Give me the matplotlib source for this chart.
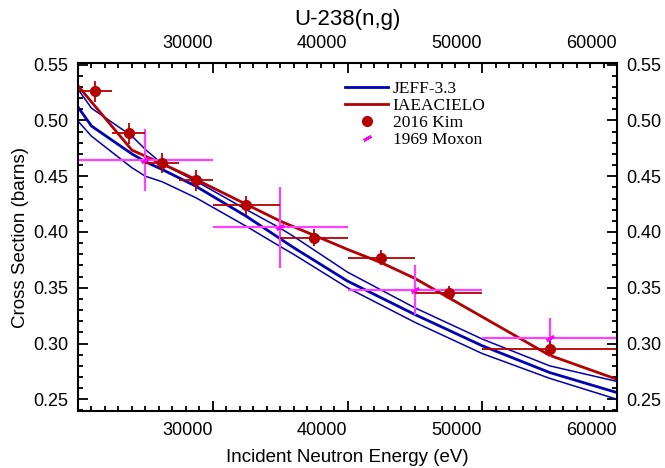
import numpy as np
import matplotlib
matplotlib.use('Agg')
import matplotlib.pyplot as plt
from matplotlib.ticker import MultipleLocator
from matplotlib.lines import Line2D

plt.rcParams['font.family'] = 'Liberation Sans'

# JEFF-3.3 evaluation (central value and uncertainty band)
jeff_e = [20000, 21000, 24000, 25000, 26250, 28750, 32500, 35000, 36000, 40000, 45000, 50000, 55000, 60000]
jeff_mid = [0.512, 0.495, 0.470, 0.463, 0.456, 0.441, 0.414, 0.394, 0.386, 0.356, 0.326, 0.298, 0.274, 0.256]
jeff_hi = [0.528, 0.511, 0.486, 0.474, 0.461, 0.4456, 0.420, 0.4035, 0.396, 0.364, 0.332, 0.304, 0.280, 0.266]
jeff_lo = [0.4994, 0.4859, 0.4576, 0.450, 0.445, 0.4307, 0.405, 0.387, 0.380, 0.350, 0.319, 0.291, 0.2688, 0.250]

# IAEA CIELO evaluation
cielo_e = [20000, 24000, 26250, 28750, 32500, 35000, 40000, 42500, 45000, 55000, 60000]
cielo_xs = [0.531, 0.4734, 0.4612, 0.4471, 0.4247, 0.4098, 0.3844, 0.3725, 0.3584, 0.2894, 0.2679]

# 2016 Kim
kim_e = [21250, 23750, 26250, 28750, 32500, 37500, 42500, 47500, 55000]
kim_de = [1250, 1250, 1250, 1250, 2500, 2500, 2500, 2500, 5000]
kim_xs = [0.526, 0.4883, 0.4615, 0.4462, 0.4238, 0.3949, 0.377, 0.3456, 0.2954]
kim_dxs = [0.0097, 0.009, 0.009, 0.0093, 0.0088, 0.0075, 0.0064, 0.006, 0.007]

# 1969 Moxon
mox_e = [25000, 35000, 45000, 55000]
mox_de = [5000, 5000, 5000, 5000]
mox_xs = [0.4645, 0.4041, 0.348, 0.3053]
mox_dxs = [0.028, 0.036, 0.022, 0.0176]

blue = '#0000b4'
red = '#b40000'
pink = '#ff40ff'
moxon_marker = (2, 2, -60)

fig = plt.figure(figsize=(6.65, 4.68), dpi=100)
ax = fig.add_axes([78/665, 1-411/468, (617-78)/665, (411-63)/468])

ax.plot(jeff_e, jeff_hi, color=blue, lw=1.1)
ax.plot(jeff_e, jeff_lo, color=blue, lw=1.1)
ax.plot(jeff_e, jeff_mid, color=blue, lw=2.0)
ax.plot(cielo_e, cielo_xs, color=red, lw=2.0)

ax.errorbar(mox_e, mox_xs, xerr=mox_de, yerr=mox_dxs, fmt='none', ecolor=pink, elinewidth=1.6, capsize=0)
ax.plot(mox_e, mox_xs, ls='none', marker=moxon_marker, ms=6, mew=2, color='#ff00ff')
ax.errorbar(kim_e, kim_xs, xerr=kim_de, yerr=kim_dxs, fmt='o', color=red, ms=7,
            ecolor=red, elinewidth=1.3, capsize=0)

ax.set_xlim(20000, 60000)
ax.set_ylim(0.2395, 0.5515)

ax.xaxis.set_major_locator(MultipleLocator(10000))
ax.xaxis.set_minor_locator(MultipleLocator(1000))
ax.yaxis.set_major_locator(MultipleLocator(0.05))
ax.yaxis.set_minor_locator(MultipleLocator(0.01))
ax.yaxis.set_major_formatter(plt.FormatStrFormatter('%.2f'))
ax.tick_params(which='both', direction='in', top=True, right=True,
               labeltop=True, labelright=True, width=1.3, labelsize=13)
ax.tick_params(which='major', length=7)
ax.tick_params(which='minor', length=3.5)
ax.tick_params(axis='x', which='major', pad=8)
ax.tick_params(axis='y', which='major', pad=7)
ax.set_xticks([30000, 40000, 50000, 60000])
for t in ax.xaxis.get_major_ticks():
    t.label1.set_ha('right')
    t.label2.set_ha('right')
for sp in ax.spines.values():
    sp.set_linewidth(1.5)

ax.set_xlabel('Incident Neutron Energy (eV)', fontsize=13.5, labelpad=7)
ax.set_ylabel('Cross Section (barns)', fontsize=13.5, labelpad=3)
ax.set_title('U-238(n,g)', fontsize=16, pad=7)

handles = [Line2D([], [], color=blue, lw=2.0),
           Line2D([], [], color=red, lw=2.0),
           Line2D([], [], ls='none', marker='o', ms=7, color=red),
           Line2D([], [], ls='none', marker=moxon_marker, ms=6, mew=2, color='#ff00ff')]
labels = ['JEFF-3.3', 'IAEACIELO', '2016 Kim', '1969 Moxon']
ax.legend(handles, labels, loc='upper left',
          bbox_to_anchor=(345/665, 1-81/468), bbox_transform=fig.transFigure,
          frameon=False, borderpad=0, borderaxespad=0, handlelength=2.5, handletextpad=0.25,
          labelspacing=0.05, prop={'family': 'Liberation Serif', 'size': 12.5})

fig.savefig('out.png', dpi=100)
